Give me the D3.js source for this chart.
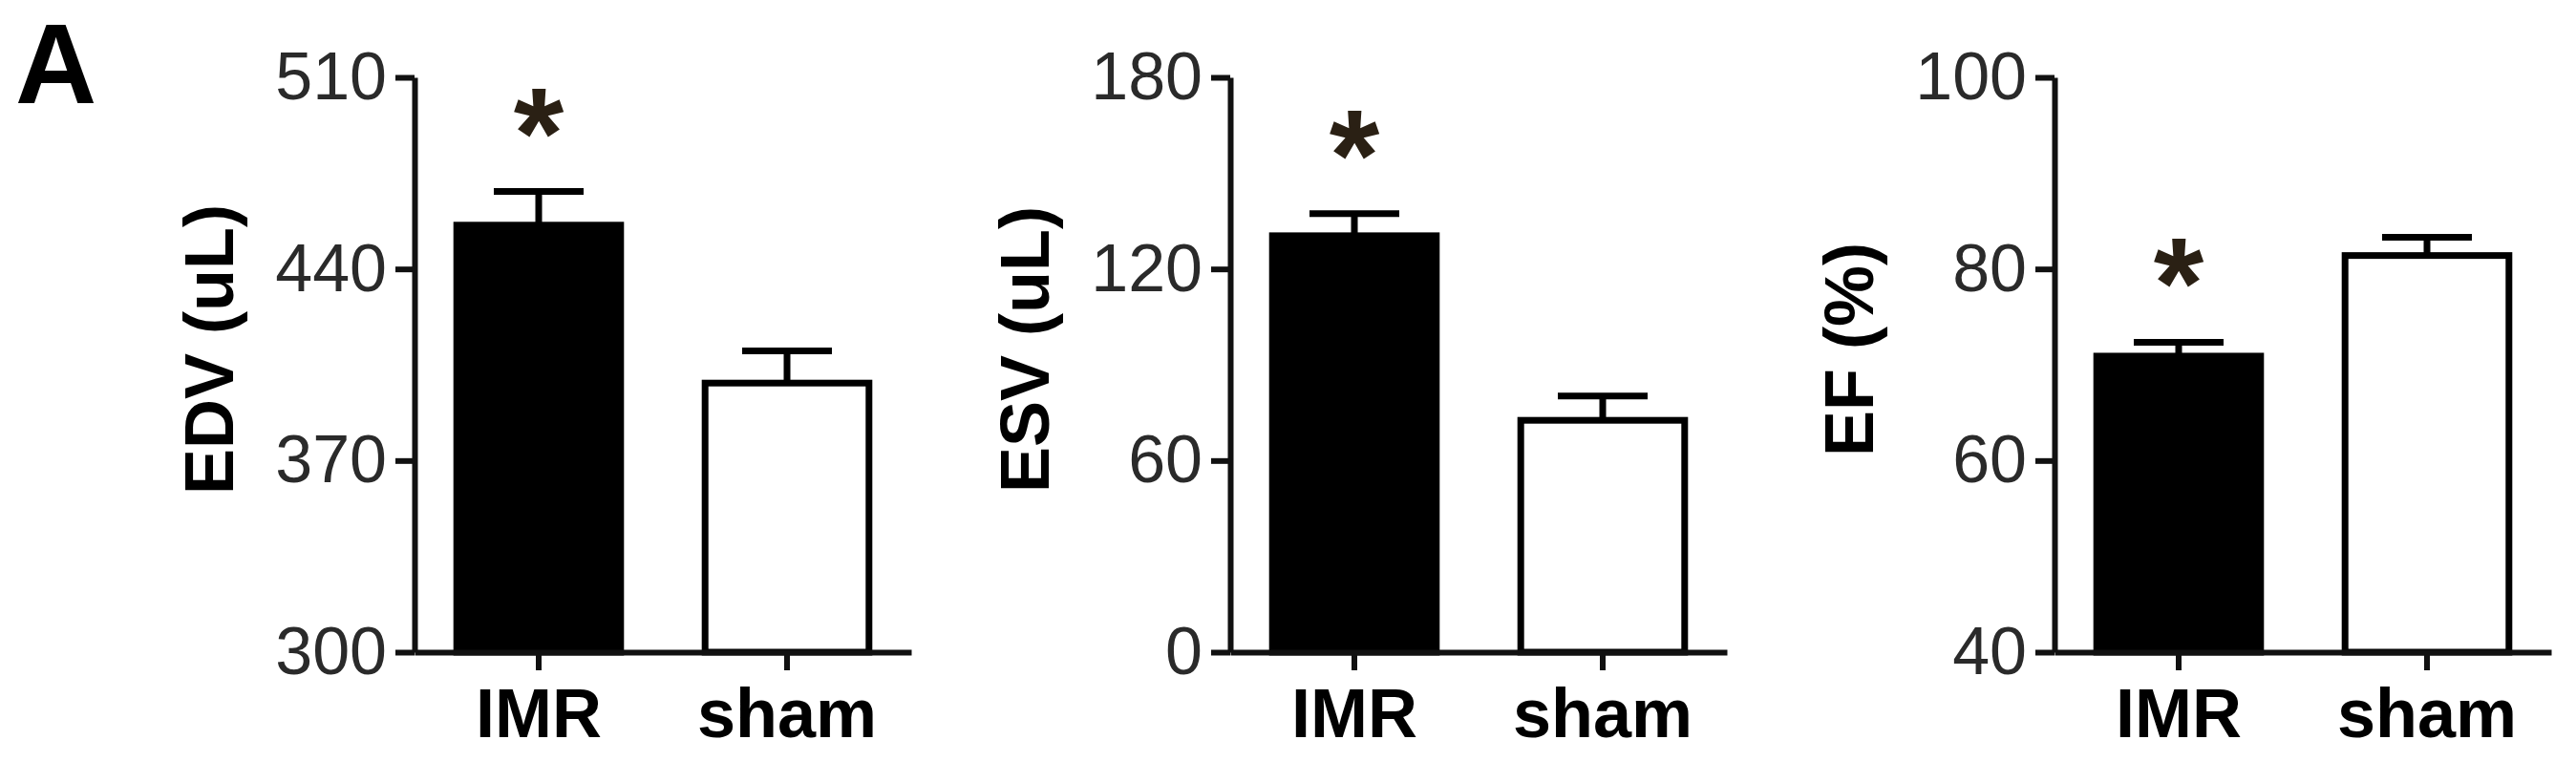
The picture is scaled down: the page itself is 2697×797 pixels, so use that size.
<!DOCTYPE html>
<html>
<head>
<meta charset="utf-8">
<script src="https://cdn.jsdelivr.net/npm/d3@7"></script>
<style>
    body { margin: 0; background: #fff; }
    svg { display: block; font-family: Arial, "Liberation Sans", Helvetica, sans-serif; }
    .axis path, .axis line { stroke: #111; stroke-width: 6; stroke-linejoin: round; }
    .y-axis text { font-size: 70px; fill: #2a2a2a; }
    .x-axis text { font-size: 72px; font-weight: bold; fill: #000; }
    .axis-title { font-size: 72px; font-weight: bold; fill: #000; }
</style>
</head>
<body>
<script>
// groups
var categories = ["IMR", "sham"];
var barFill = ["#000", "#fff"];
var starred = [true, false];

// EDV (uL)
var edvMean = [456, 398.3];
var edvSem = [12.3, 11.8];
var edvTicks = [300, 370, 440, 510];

// ESV (uL)
var esvMean = [130.4, 72.6];
var esvSem = [6.9, 7.6];
var esvTicks = [0, 60, 120, 180];

// EF (%)
var efMean = [70.9, 81.4];
var efSem = [1.45, 1.9];
var efTicks = [40, 60, 80, 100];

var width = 2697, height = 797;
var yTop = 81, yBase = 683;
var panelLeft = [434, 1288, 2151];
var panelWidth = 520;

var svg = d3.select("body").append("svg")
    .attr("width", width)
    .attr("height", height);

svg.append("text")
    .attr("x", 16)
    .attr("y", 108)
    .attr("font-size", 118)
    .attr("font-weight", "bold")
    .text("A");

var panels = [
    { title: "EDV (uL)", mean: edvMean, sem: edvSem, ticks: edvTicks },
    { title: "ESV (uL)", mean: esvMean, sem: esvSem, ticks: esvTicks },
    { title: "EF (%)", mean: efMean, sem: efSem, ticks: efTicks }
];

panels.forEach((p, i) => drawBarPanel(svg, p, panelLeft[i]));

function drawBarPanel(svg, p, left) {
    var xs = d3.scaleBand()
        .domain(categories)
        .range([left, left + panelWidth])
        .paddingInner(0.34)
        .paddingOuter(0.17);

    var ys = d3.scaleLinear()
        .domain(d3.extent(p.ticks))
        .range([yBase, yTop]);

    var g = svg.append("g");

    // bars
    g.selectAll("rect")
        .data(categories)
        .enter().append("rect")
        .attr("x", d => xs(d))
        .attr("width", xs.bandwidth())
        .attr("y", (d, i) => ys(p.mean[i]))
        .attr("height", (d, i) => yBase - ys(p.mean[i]))
        .attr("fill", (d, i) => barFill[i])
        .attr("stroke", "#000")
        .attr("stroke-width", 7);

    // error bars (upper half only, like the original)
    var cx = d => xs(d) + xs.bandwidth() / 2;
    g.selectAll(".err")
        .data(categories)
        .enter().append("path")
        .attr("class", "err")
        .attr("d", (d, i) => {
            var y0 = ys(p.mean[i]), y1 = ys(p.mean[i] + p.sem[i]);
            return `M${cx(d)},${y0}V${y1}M${cx(d) - 47},${y1}H${cx(d) + 47}`;
        })
        .attr("fill", "none")
        .attr("stroke", "#000")
        .attr("stroke-width", 7);

    // significance star
    g.selectAll(".star")
        .data(categories.filter((d, i) => starred[i]))
        .enter().append("text")
        .attr("class", "star")
        .attr("x", d => cx(d))
        .attr("y", d => {
            var i = categories.indexOf(d);
            return ys(p.mean[i] + p.sem[i]) - 15;
        })
        .attr("text-anchor", "middle")
        .attr("font-size", 135)
        .attr("font-weight", "bold")
        .attr("fill", "#2a2014")
        .text("*");

    // Y-axis
    var y_axis = d3.axisLeft(ys)
        .tickValues(p.ticks)
        .tickSize(20)
        .tickSizeOuter(0)
        .tickPadding(9);

    svg.append("g")
        .attr("class", "axis y-axis")
        .attr("transform", `translate(${left},0)`)
        .call(y_axis);

    // X-axis
    var x_axis = d3.axisBottom(xs)
        .tickSize(19)
        .tickSizeOuter(0)
        .tickPadding(19);

    svg.append("g")
        .attr("class", "axis x-axis")
        .attr("transform", `translate(0,${yBase})`)
        .call(x_axis);

    svg.append("text")
        .attr("class", "axis-title")
        .attr("transform", `translate(${left - 190},366) rotate(-90)`)
        .attr("text-anchor", "middle")
        .text(p.title);
}
</script>
</body>
</html>
